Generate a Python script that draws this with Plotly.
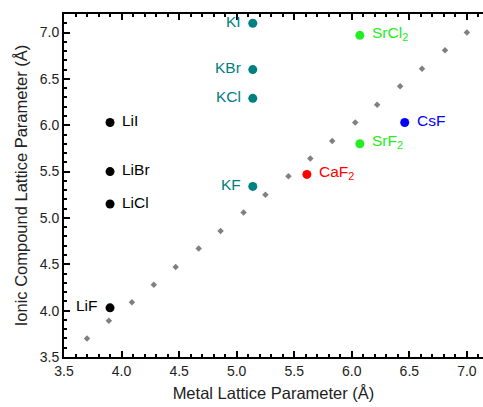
import plotly.graph_objects as go

# Reference line y = x (gray diamonds)
ref_x = [3.70, 3.89, 4.09, 4.28, 4.47, 4.67, 4.86, 5.06, 5.25, 5.45, 5.64, 5.83, 6.03, 6.22, 6.42, 6.61, 6.81, 7.00]
ref_y = [3.70, 3.89, 4.09, 4.28, 4.47, 4.67, 4.86, 5.06, 5.25, 5.45, 5.64, 5.83, 6.03, 6.22, 6.42, 6.61, 6.81, 7.00]

# Compounds
li_names = ["LiF", "LiCl", "LiBr", "LiI"]
li_x = [3.90, 3.90, 3.90, 3.90]
li_y = [4.03, 5.15, 5.50, 6.03]

k_names = ["KF", "KCl", "KBr", "KI"]
k_x = [5.14, 5.14, 5.14, 5.14]
k_y = [5.34, 6.29, 6.60, 7.10]

ca_names = ["CaF<sub>2</sub>"]
ca_x = [5.61]
ca_y = [5.47]

sr_names = ["SrF<sub>2</sub>", "SrCl<sub>2</sub>"]
sr_x = [6.07, 6.07]
sr_y = [5.80, 6.97]

cs_names = ["CsF"]
cs_x = [6.46]
cs_y = [6.03]

label_side = {
    "LiF": "left", "LiCl": "right", "LiBr": "right", "LiI": "right",
    "KF": "left", "KCl": "left", "KBr": "left", "KI": "left",
}

FONT = "Liberation Sans, Arial, sans-serif"
BLACK = "#000000"
TEAL = "#008080"
LIME = "#22ee22"
RED = "#ff0000"
BLUE = "#0000ff"

fig = go.Figure()
fig.add_trace(go.Scatter(x=ref_x, y=ref_y, mode="markers",
                         marker=dict(symbol="diamond", size=5, color="#808080"),
                         showlegend=False, hoverinfo="skip"))

groups = [
    (li_names, li_x, li_y, BLACK),
    (k_names, k_x, k_y, TEAL),
    (ca_names, ca_x, ca_y, RED),
    (sr_names, sr_x, sr_y, LIME),
    (cs_names, cs_x, cs_y, BLUE),
]
for names, xs, ys, col in groups:
    fig.add_trace(go.Scatter(x=xs, y=ys, mode="markers",
                             marker=dict(size=9, color=col),
                             showlegend=False))
    for n, xv, yv in zip(names, xs, ys):
        side = label_side.get(n, "right")
        fig.add_annotation(x=xv, y=yv, text=n, showarrow=False,
                           xanchor="left" if side == "right" else "right",
                           xshift=10 if side == "right" else -10,
                           yshift=2,
                           font=dict(size=15.5, color=col, family=FONT))

axis_common = dict(
    showline=True, linecolor="black", linewidth=2,
    ticks="inside", ticklen=6, tickwidth=1.5, tickcolor="black",
    showgrid=False, zeroline=False,
    dtick=0.5, tickformat=".1f",
    tickfont=dict(size=14, color="#222", family=FONT),
    minor=dict(ticks="inside", ticklen=3, tickwidth=1.5, tickcolor="black", dtick=0.1, showgrid=False),
)

fig.update_xaxes(range=[3.5, 7.14], mirror="ticks", tick0=3.5,
                 title=dict(text="Metal Lattice Parameter (Å)", standoff=10,
                            font=dict(size=16.5, color="#222", family=FONT)),
                 **axis_common)
fig.update_yaxes(range=[3.5, 7.2], mirror=False, tick0=3.5,
                 title=dict(text="Ionic Compound Lattice Parameter (Å)", standoff=8,
                            font=dict(size=16.5, color="#222", family=FONT)),
                 **axis_common)

fig.update_layout(width=483, height=407,
                  margin=dict(l=64, r=0, t=14, b=50),
                  plot_bgcolor="white", paper_bgcolor="white")

fig.write_html("out.html")
